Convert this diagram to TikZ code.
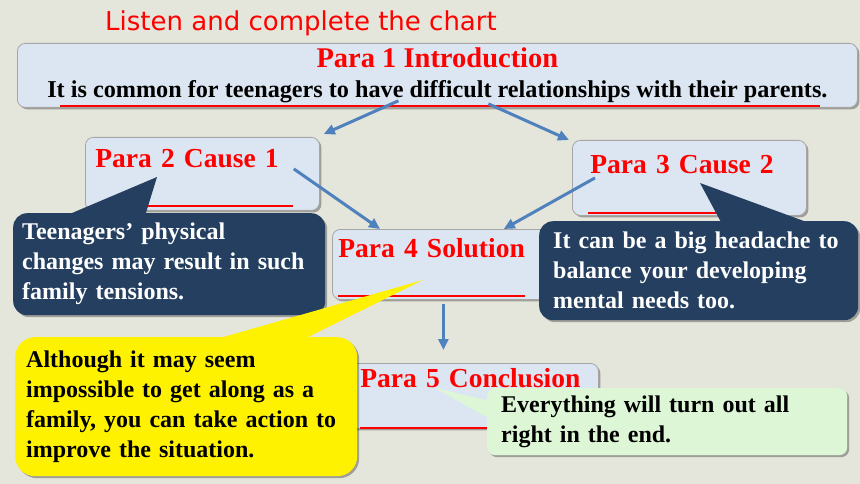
\documentclass[tikz,border=0pt]{standalone}
\usepackage{fontspec}
\setmainfont{Liberation Serif}
\newfontfamily\titlefont{DejaVu Sans}
\usetikzlibrary{arrows.meta,positioning,shadows}
\definecolor{paperbg}{HTML}{E4E5DB}
\definecolor{boxblue}{HTML}{DCE6F2}
\definecolor{boxedge}{HTML}{A6A6A6}
\definecolor{navy}{HTML}{243F60}
\definecolor{flowblue}{HTML}{4F81BD}
\definecolor{mintgreen}{HTML}{DDF7D6}

\begin{document}
\begin{tikzpicture}[
    x=1pt, y=-1pt, % 以像素為單位,y 向下
    font=\bfseries,
    % --- 樣式定義 ---
    % 陰影
    soft shadow/.style={
        drop shadow={shadow xshift=2pt, shadow yshift=-2pt, opacity=0.3, fill=black}
    },
    % 淺藍段落方塊
    para box/.style={
        draw=boxedge,
        fill=boxblue,
        line width=0.8pt,
        rounded corners=8pt,
        anchor=north west,
        align=left,
        text=red,
        font=\fontsize{27.5}{30}\selectfont\bfseries,
        soft shadow
    },
    % 對話框樣式
    note box/.style={
        anchor=north west,
        align=left,
        font=\fontsize{24}{30}\selectfont\bfseries,
        inner ysep=0pt,
        soft shadow
    },
    dark note/.style={note box, fill=navy, text=white, rounded corners=14pt},
    yellow note/.style={note box, fill=yellow, text=black, rounded corners=20pt},
    green note/.style={note box, fill=mintgreen, text=black, rounded corners=8pt},
    % 箭頭與填空線
    flow/.style={-{Triangle[length=11pt, width=10pt]}, draw=flowblue, line width=3pt},
    blank/.style={red, line width=2pt}
]

    % 背景
    \fill[paperbg] (0,0) rectangle (860,484);
    \useasboundingbox (0,0) rectangle (860,484);

    % ====== 標題 ======
    \node[anchor=base west, text=red, inner sep=0pt,
          font=\titlefont\fontsize{26}{30}\selectfont] (title) at (105,31) {Listen and complete the chart};

    % ====== 段落方塊 ======
    \node[para box, align=center, text=black, inner sep=0pt,
          minimum width=840pt, minimum height=64pt,
          font=\fontsize{24.2}{30}\selectfont\bfseries] (p1) at (17,43)
        {{\color{red}\fontsize{28.5}{30}\selectfont Para 1 Introduction}\\
         It is common for teenagers to have difficult relationships with their parents.};

    \node[para box, inner xsep=10pt, inner ysep=10pt, text width=214pt,
          text height=20pt, text depth=33pt] (p2) at (85,137) {Para 2 Cause 1};
    \node[para box, inner xsep=18pt, inner ysep=10pt, text width=198pt,
          text height=23pt, text depth=32pt] (p3) at (572,140) {Para 3 Cause 2};
    \node[para box, inner xsep=6pt, inner ysep=8pt, text width=210pt,
          text height=20pt, text depth=34pt] (p4) at (332,229) {Para 4 Solution};
    \node[para box, inner xsep=13pt, inner ysep=6pt, text width=225pt,
          text height=18pt, text depth=35pt] (p5) at (347,363) {Para 5 Conclusion};

    % 填空線
    \draw[blank] (60,106) -- (820,106);
    \draw[blank] (120,206) -- (293,206);
    \draw[blank] (588,213) -- (750,213);
    \draw[blank] (338,296) -- (525,296);
    \draw[blank] (360,428) -- (560,428);

    % ====== 箭頭連接 ======
    \draw[flow] ([xshift=-39pt, yshift=7pt]p1.south) -- ([xshift=4pt, yshift=3pt]p2.north east);
    \draw[flow] ([xshift=51pt, yshift=4pt]p1.south) -- ([xshift=-3pt]p3.north west);
    \draw[flow] ([xshift=-26pt, yshift=5pt]p2.east) -- ([xshift=48pt]p4.north west);
    \draw[flow] ([xshift=23pt]p3.west) -- ([xshift=-51pt]p4.north east);
    \coordinate (p5top) at (p4.south |- p5.north);
    \draw[flow] ([yshift=-4pt]p4.south) -- ([yshift=13pt]p5top);

    % ====== 對話框 ======
    \node[dark note, inner xsep=9pt, text width=294pt, minimum height=102pt] (cause1 note) at (13,213)
        {Teenagers’ physical\\changes may result in such\\family tensions.};
    \fill[navy] (65,216) -- (157,177) -- (145,216) -- cycle;

    \node[dark note, inner xsep=14pt, text width=291pt, minimum height=99pt] (cause2 note) at (539,221)
        {It can be a big headache to\\balance your developing\\mental needs too.};
    \fill[navy] (722,224) -- (700,183) -- (812,224) -- cycle;

    \node[yellow note, inner xsep=11pt, text width=320pt, minimum height=139pt] (solution note) at (15,337)
        {Although it may seem\\impossible to get along as a\\family, you can take action to\\improve the situation.};
    \fill[yellow] (213,340) -- (423,280) -- (302,340) -- cycle;

    \node[green note, inner xsep=14pt, text width=332pt, minimum height=67pt] (conclusion note) at (487,388)
        {Everything will turn out all\\right in the end.};
    \fill[mintgreen] (490,401) -- (435,388) -- (490,419) -- cycle;

\end{tikzpicture}
\end{document}
